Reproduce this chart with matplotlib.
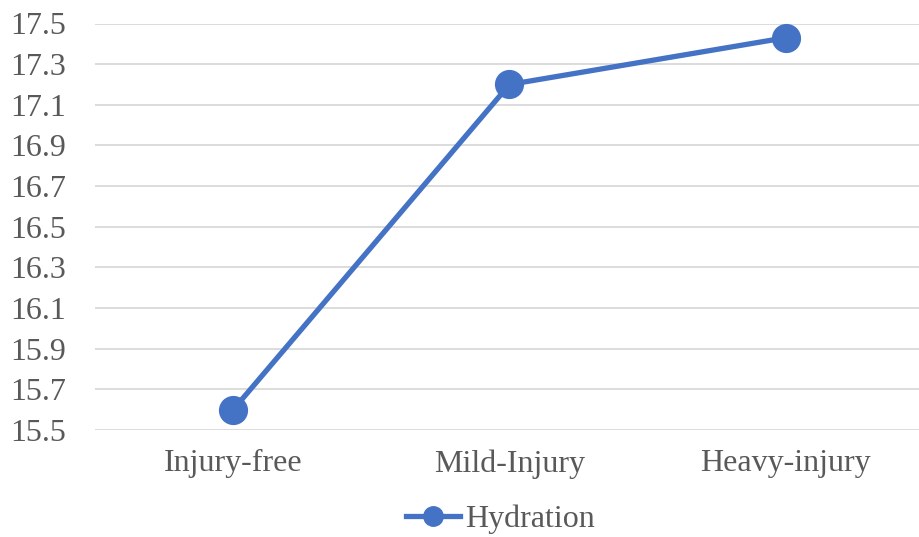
import matplotlib
matplotlib.use('Agg')
import matplotlib.pyplot as plt
import matplotlib.ticker as ticker

categories = ["Injury-free", "Mild-Injury", "Heavy-injury"]
hydration = [15.60, 17.20, 17.43]
series_name = "Hydration"


def main():
    plt.rcParams['font.family'] = ['Liberation Serif', 'DejaVu Serif']
    text_color = "#595959"
    blue = "#4472C4"

    fig = plt.figure(figsize=(9.2, 5.37), dpi=100)
    W, H = 920, 537
    left, right, bottom, top = 95, 924, 430, 23.5
    ax = fig.add_axes([left / W, 1 - bottom / H, (right - left) / W,
                       (bottom - top) / H])

    x = range(len(categories))
    line, = ax.plot(x, hydration, color=blue, linewidth=3.8, marker='o',
                    markersize=20, label=series_name, zorder=3,
                    clip_on=False)

    ax.set_xlim(-0.5, 2.5)
    ax.set_ylim(15.5, 17.5)
    ax.set_yticks([15.5 + 0.2 * i for i in range(11)])
    ax.yaxis.set_major_formatter(ticker.FormatStrFormatter('%.1f'))
    ax.set_xticks(list(x))
    ax.set_xticklabels(categories)

    ax.grid(axis='y', color="#D9D9D9", linewidth=1.3)
    ax.set_axisbelow(True)
    for s in ax.spines.values():
        s.set_visible(False)
    ax.tick_params(axis='both', length=0, labelsize=23, colors=text_color)
    ax.tick_params(axis='y', pad=21)
    ax.tick_params(axis='x', pad=14)

    fig.legend(handles=[line], loc='center',
               bbox_to_anchor=(500 / W, 1 - 519 / H),
               frameon=False, fontsize=23, labelcolor=text_color,
               handlelength=1.7, handletextpad=0.15, markerscale=0.7)

    plt.savefig("out.png", dpi=100)


if __name__ == "__main__":
    main()
